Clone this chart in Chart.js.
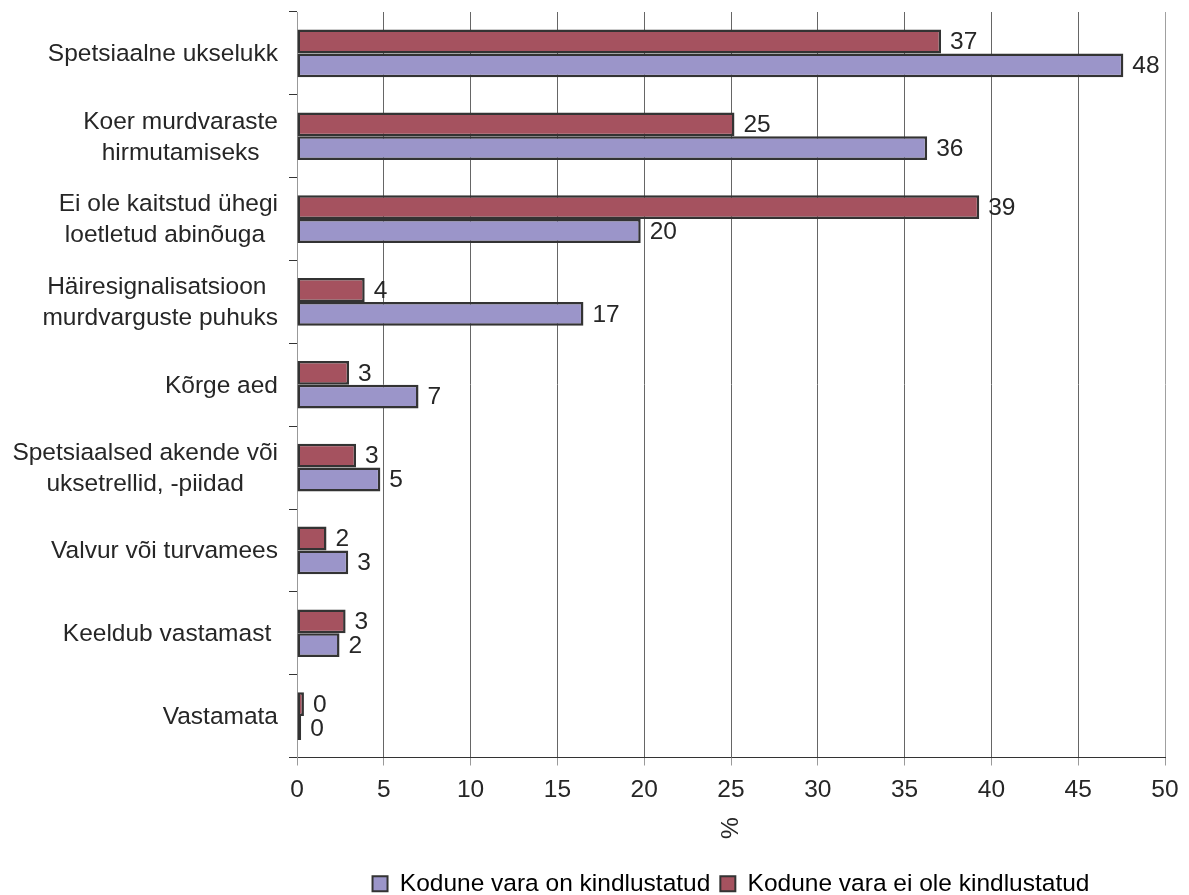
<!DOCTYPE html>
<html>
<head>
<meta charset="utf-8">
<script src="https://cdn.jsdelivr.net/npm/chart.js@4.4.1/dist/chart.umd.min.js"></script>
<style>
  html, body { margin: 0; padding: 0; background: #ffffff; overflow: hidden; }
  #wrap { width: 1189px; height: 895px; position: relative; }
</style>
</head>
<body>
<div id="wrap"><canvas id="chart"></canvas></div>
<script>
// Security measures at home, by whether home property is insured (%)
const categories = [
  ["Spetsiaalne ukselukk"],
  ["Koer murdvaraste", "hirmutamiseks"],
  ["Ei ole kaitstud ühegi", "loetletud abinõuga "],
  ["Häiresignalisatsioon ", "murdvarguste puhuks"],
  ["Kõrge aed"],
  ["Spetsiaalsed akende või", "uksetrellid, -piidad"],
  ["Valvur või turvamees"],
  ["Keeldub vastamast "],
  ["Vastamata"]
];
const insuredLabel = "Kodune vara on kindlustatud";
const notInsuredLabel = "Kodune vara ei ole kindlustatud";
const insured    = [47.6, 36.3, 19.8, 16.5, 7.0, 4.8, 2.95, 2.45, 0.24];
const notInsured = [37.1, 25.2, 39.3, 3.9, 3.0, 3.4, 1.7, 2.8, 0.4];
const xTicks = [0, 5, 10, 15, 20, 25, 30, 35, 40, 45, 50];
const xTitle = "%";

const FONT = "'Liberation Sans', Arial, Helvetica, sans-serif";
const FSIZE = 24.5;
const TEXT = "#262626";
const EDGE = "#333333";

// Value labels at the end of each bar
const valueLabels = {
  id: 'valueLabels',
  afterDatasetsDraw(chart) {
    const ctx = chart.ctx;
    ctx.save();
    ctx.font = FSIZE + "px " + FONT;
    ctx.fillStyle = TEXT;
    ctx.textAlign = 'left';
    ctx.textBaseline = 'middle';
    chart.data.datasets.forEach((ds, di) => {
      const meta = chart.getDatasetMeta(di);
      meta.data.forEach((el, i) => {
        ctx.fillText(String(Math.round(ds.data[i])), el.x + 9, el.y + 1);
      });
    });
    ctx.restore();
  }
};

// Category labels: block right-aligned to the axis, lines centred within the block
const categoryLabels = {
  id: 'categoryLabels',
  afterDraw(chart) {
    const ctx = chart.ctx;
    const y = chart.scales.y;
    ctx.save();
    ctx.font = FSIZE + "px " + FONT;
    ctx.fillStyle = TEXT;
    ctx.textAlign = 'center';
    ctx.textBaseline = 'middle';
    const right = y.right - 19;
    const lineH = 31;
    categories.forEach((lines, i) => {
      const yc = y.getPixelForValue(i);
      const maxW = Math.max(...lines.map(l => ctx.measureText(l).width));
      const cx = right - maxW / 2;
      const y0 = yc - (lines.length - 1) * lineH / 2;
      lines.forEach((l, k) => ctx.fillText(l, cx, y0 + k * lineH + 1));
    });
    ctx.restore();
  }
};

// Rotated "%" title under the value axis
const axisTitle = {
  id: 'axisTitle',
  afterDraw(chart) {
    const ctx = chart.ctx;
    const a = chart.chartArea;
    ctx.save();
    ctx.font = FSIZE + "px " + FONT;
    ctx.fillStyle = TEXT;
    ctx.translate((a.left + a.right) / 2, 828);
    ctx.rotate(-Math.PI / 2);
    ctx.textAlign = 'center';
    ctx.textBaseline = 'middle';
    ctx.fillText(xTitle, 0, 0);
    ctx.restore();
  }
};

new Chart(document.getElementById('chart'), {
  type: 'bar',
  data: {
    labels: categories,
    datasets: [
      {
        label: notInsuredLabel,
        data: notInsured,
        backgroundColor: '#A5525F',
        borderColor: EDGE,
        borderWidth: 2.5,
        borderSkipped: false,
        categoryPercentage: 0.575,
        barPercentage: 1.0
      },
      {
        label: insuredLabel,
        data: insured,
        backgroundColor: '#9B95C9',
        borderColor: EDGE,
        borderWidth: 2.5,
        borderSkipped: false,
        categoryPercentage: 0.575,
        barPercentage: 1.0
      }
    ]
  },
  options: {
    indexAxis: 'y',
    responsive: true,
    maintainAspectRatio: false,
    animation: false,
    layout: { padding: { left: 0, right: 24, top: 12, bottom: -11 } },
    scales: {
      x: {
        min: 0,
        max: 50,
        afterBuildTicks(scale) { scale.ticks = xTicks.map(v => ({ value: v })); },
        afterFit(scale) { scale.height = 104; },
        grid: {
          color: (c) => (c.tick && c.tick.value === 50) ? '#a0a0a0' : '#666666',
          lineWidth: 1,
          drawTicks: true,
          tickLength: 8,
          tickColor: '#9a9a9a'
        },
        border: { display: true, color: '#333333', width: 1 },
        ticks: {
          color: TEXT,
          font: { family: FONT, size: FSIZE },
          padding: 10,
          maxRotation: 0,
          autoSkip: false
        }
      },
      y: {
        afterFit(scale) { scale.width = 297; },
        grid: {
          display: true,
          drawOnChartArea: false,
          drawTicks: true,
          tickLength: 8,
          offset: true,
          color: '#333333'
        },
        border: { display: true, color: '#999999', width: 1 },
        ticks: { display: false }
      }
    },
    plugins: {
      legend: {
        position: 'bottom',
        fullSize: false,
        reverse: true,
        labels: {
          boxWidth: 15,
          boxHeight: 15,
          padding: 10,
          color: TEXT,
          font: { family: FONT, size: FSIZE },
          generateLabels(chart) {
            return chart.data.datasets.map((ds, i) => ({
              text: ds.label,
              fillStyle: ds.backgroundColor,
              strokeStyle: EDGE,
              lineWidth: 2,
              hidden: false,
              datasetIndex: i
            }));
          }
        }
      },
      tooltip: { enabled: false }
    }
  },
  plugins: [valueLabels, categoryLabels, axisTitle]
});
</script>
</body>
</html>
